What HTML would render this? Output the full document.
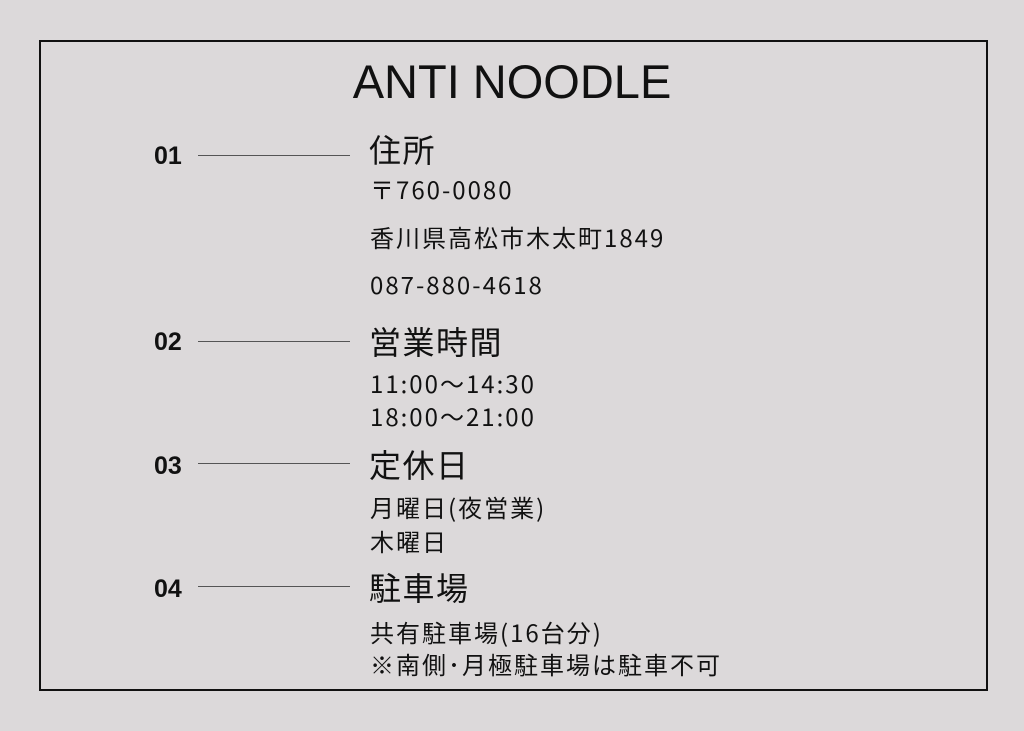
<!DOCTYPE html>
<html><head><meta charset="utf-8"><style>
body{margin:0;width:1024px;height:731px;background:#dcd9da;position:relative;overflow:hidden;font-family:"Liberation Sans","Noto Sans CJK JP",sans-serif;color:#111}
.frame{position:absolute;left:39px;top:40px;width:945px;height:647px;border:2px solid #111}
.t{position:absolute;white-space:nowrap;line-height:40px;height:40px}
.title{left:0;width:1024px;text-align:center;top:59px;font-size:47px;line-height:46px;height:46px}
.n{left:154px;font-weight:bold;font-size:25px}
.h{left:369px;font-size:32px;letter-spacing:1.5px;font-family:"Noto Sans CJK JP",sans-serif}
.s{left:370px;font-size:24px;font-family:"Noto Sans CJK JP",sans-serif;letter-spacing:2px}
.l{position:absolute;left:198px;width:152px;height:1px;background:#555}
</style></head><body>
<div class="frame"></div>
<div class="t title">ANTI NOODLE</div>

<div class="t n" style="top:136px">01</div>
<div class="l" style="top:155px"></div>
<div class="t h" style="top:129px">住所</div>
<div class="t s" style="top:169px">〒760-0080</div>
<div class="t s" style="top:217px">香川県高松市木太町1849</div>
<div class="t s" style="top:264px">087-880-4618</div>

<div class="t n" style="top:322px">02</div>
<div class="l" style="top:341px"></div>
<div class="t h" style="top:321px">営業時間</div>
<div class="t s" style="top:363px">11:00〜14:30</div>
<div class="t s" style="top:396px">18:00〜21:00</div>

<div class="t n" style="top:446px">03</div>
<div class="l" style="top:463px"></div>
<div class="t h" style="top:444px">定休日</div>
<div class="t s" style="top:487px">月曜日(夜営業)</div>
<div class="t s" style="top:521px">木曜日</div>

<div class="t n" style="top:569px">04</div>
<div class="l" style="top:586px"></div>
<div class="t h" style="top:567px">駐車場</div>
<div class="t s" style="top:612px">共有駐車場(16台分)</div>
<div class="t s" style="top:644px">※南側･月極駐車場は駐車不可</div>
</body></html>
